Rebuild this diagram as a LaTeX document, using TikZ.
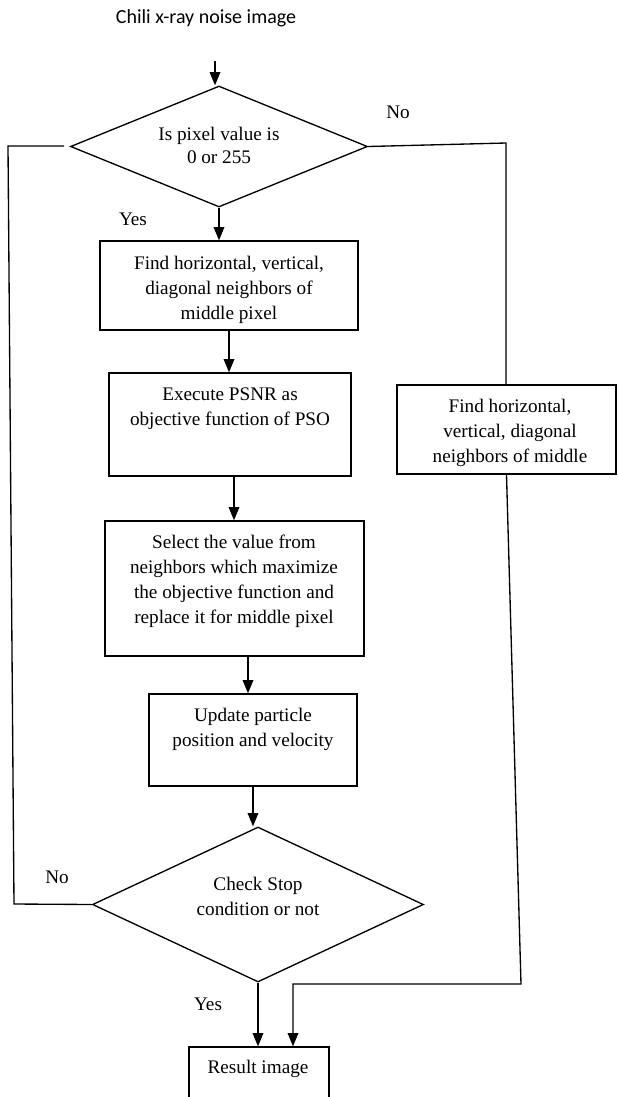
\documentclass[tikz,border=0pt]{standalone}
\usepackage{fontspec}
\setmainfont{Liberation Serif}
\newfontfamily\titlefont{Carlito}
\usetikzlibrary{arrows.meta,shapes.geometric,fit,calc}
\begin{document}
\begin{tikzpicture}[x=0.75pt,y=-0.75pt,
  line width=1pt,
  box/.style={draw, rectangle, inner sep=0pt},
  dia/.style={draw, diamond, inner sep=0pt},
  txt/.style={align=center, font=\fontsize{14.4}{18.75}\selectfont, inner sep=0pt},
  lbl/.style={font=\fontsize{14.4}{16}\selectfont, inner sep=0pt},
  arr/.style={-{Triangle[length=10pt,width=8pt]}},
]
\path[use as bounding box, clip] (0,0) rectangle (618,1097);

% title
\node[inner sep=0pt, font=\titlefont\fontsize{15}{17}\selectfont] (title) at (206,18) {Chili x-ray noise image};
\coordinate (start) at (215,61);

% decision 1
\node[dia, minimum width=222.75pt, minimum height=90.75pt] (d1) at (219,146.5) {};
\node[txt, font=\fontsize{14.4}{17.25}\selectfont] (d1t) at (219,145) {Is pixel value is\\0 or 255};

% boxes
\node[box, fit={(100,241) (358,330)}] (b1) {};
\node[txt] (b1t) at (229,290) {Find horizontal, vertical,\\diagonal neighbors of\\middle pixel};

\node[box, fit={(109,373) (351,476)}] (b2) {};
\node[txt] (b2t) at (230,409) {Execute PSNR as\\objective function of PSO};

\node[box, fit={(105,521) (364,656)}] (b3) {};
\node[txt] (b3t) at (234,581) {Select the value from\\neighbors which maximize\\the objective function and\\replace it for middle pixel};

\node[box, fit={(149,694) (357,786)}] (b4) {};
\node[txt] (b4t) at (253,729) {Update particle\\position and velocity};

% decision 2
\node[dia, minimum width=248.25pt, minimum height=116.25pt] (d2) at (258,904.5) {};
\node[txt] (d2t) at (258,896) {Check Stop\\condition or not};

% right box
\node[box, fit={(397,385) (616,474)}] (rb) {};
\node[txt] (rbt) at (510,433) {Find horizontal,\\vertical, diagonal\\neighbors of middle};

% result box (bottom cut by the page)
\node[box, fit={(189,1047) (329,1120)}] (res) {};
\node[txt] (rest) at (258,1069) {Result image};

% labels
\node[lbl] (no1) at (398,112) {No};
\node[lbl] (yes1) at (133,219) {Yes};
\node[lbl] (no2) at (57,877) {No};
\node[lbl] (yes2) at (208,1004) {Yes};

% coordinates for loops
\coordinate (L1) at (14,904);
\coordinate (L2) at (8,146);
\coordinate (L3) at (64,146);
\coordinate (R1) at (506,143);
\coordinate (R2) at (521,984);
\coordinate (R3) at (293,984);
\coordinate (A23) at (234,476);
\coordinate (A34) at (248,656);

% connectors
\draw[arr] (start) -- (start |- d1.north);
\draw[arr] (d1.south) -- (d1.south |- b1.north);
\draw[arr] (b1.south) -- (b1.south |- b2.north);
\draw[arr] (A23) -- (A23 |- b3.north);
\draw[arr] (A34) -- (A34 |- b4.north);
\draw[arr] (b4.south) -- (b4.south |- d2.north);
\draw[arr] (d2.south) -- (d2.south |- res.north);
\draw (d2.west) -- (L1) -- (L2) -- (L3);
\draw (d1.east) -- (R1) -- (R1 |- rb.north);
\draw[arr] (rb.south) -- (R2) -- (R3) -- (R3 |- res.north);
\end{tikzpicture}
\end{document}
